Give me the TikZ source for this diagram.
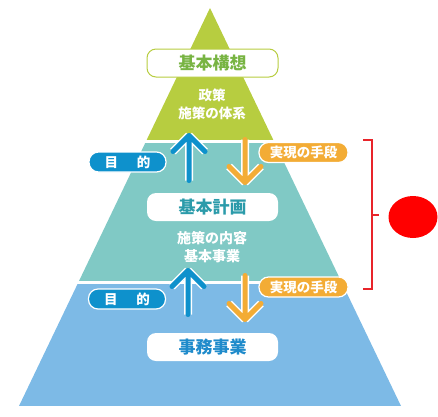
\documentclass[tikz,border=0pt]{standalone}
\usepackage{fontspec}
\newfontfamily\jp{Noto Sans CJK JP}
\usetikzlibrary{shapes.geometric}
\pgfdeclarelayer{bg}
\pgfsetlayers{bg,main}

\definecolor{tiergreen}{HTML}{B7CD40}
\definecolor{tierteal}{HTML}{80C9C5}
\definecolor{tierblue}{HTML}{7DBAE6}
\definecolor{kosotext}{HTML}{78B443}
\definecolor{keikakutext}{HTML}{2B9BAA}
\definecolor{jimutext}{HTML}{1F8BCB}
\definecolor{arrowblue}{HTML}{0E91CC}
\definecolor{arroworange}{HTML}{F3AC35}
\definecolor{bracketred}{HTML}{E8242A}
\definecolor{markred}{HTML}{FF0000}

\tikzset{
    titlebox/.style={rounded corners=9pt, fill=white, inner sep=0pt,
        minimum width=131pt, minimum height=28pt,
        font=\jp\bfseries\fontsize{17}{17}\selectfont},
    subtext/.style={text=white, inner sep=0pt,
        font=\jp\bfseries\fontsize{13.5}{13.5}\selectfont},
    pillbox/.style={rounded corners=9.5pt, draw=white, line width=1.2pt,
        inner sep=0pt, minimum height=20pt, text=white,
        font=\jp\bfseries\fontsize{13.5}{13.5}\selectfont},
    purposebox/.style={pillbox, fill=arrowblue, minimum width=77pt},
    meansbox/.style={pillbox, fill=arroworange, minimum width=89pt},
    flowarrow/.style={line width=5pt, line cap=round, line join=round,
        preaction={draw=white, line width=8pt}},
}

\begin{document}
\begin{tikzpicture}[x=1pt, y=-1pt]
    \useasboundingbox (0,0) rectangle (438,416);

    % pyramid
    \begin{pgfonlayer}{bg}
        \begin{scope}
            \clip (210,8) -- (401,406) -- (19,406) -- cycle;
            \fill[tiergreen] (0,0) rectangle (438,140);
            \fill[tierteal] (0,143) rectangle (438,281);
            \fill[tierblue] (0,284) rectangle (438,406);
        \end{scope}
    \end{pgfonlayer}

    % top tier
    \node (koso) [titlebox, draw=tiergreen, line width=1pt, text=kosotext] at (212.5,63) {基本構想};
    \node (seisaku) [subtext] at (212,95) {政策};
    \node (taikei) [subtext] at (212,113) {施策の体系};

    % middle tier
    \node (keikaku) [titlebox, text=keikakutext] at (212.5,207) {基本計画};
    \node (naiyo) [subtext, font=\jp\bfseries\fontsize{14}{14}\selectfont] at (212,238) {施策の内容};
    \node (kihon) [subtext, font=\jp\bfseries\fontsize{14}{14}\selectfont] at (212,256) {基本事業};

    % bottom tier
    \node (jimu) [titlebox, text=jimutext] at (212.5,347) {事務事業};

    % arrows
    \coordinate (up1s) at (189,180.5);
    \coordinate (up1e) at (189,135.5);
    \coordinate (dn1s) at (245,139.5);
    \coordinate (dn1e) at (245,182.5);
    \coordinate (up2s) at (188,314.5);
    \coordinate (up2e) at (188,270.5);
    \coordinate (dn2s) at (245,275.5);
    \coordinate (dn2e) at (245,319.5);

    \draw[flowarrow, arrowblue] (up1s) -- (up1e) (up1e) -- ++(-16,16) (up1e) -- ++(16,16);
    \draw[flowarrow, arroworange] (dn1s) -- (dn1e) (dn1e) -- ++(-16,-16) (dn1e) -- ++(16,-16);
    \draw[flowarrow, arrowblue] (up2s) -- (up2e) (up2e) -- ++(-16,16) (up2e) -- ++(16,16);
    \draw[flowarrow, arroworange] (dn2s) -- (dn2e) (dn2e) -- ++(-16,-16) (dn2e) -- ++(16,-16);

    \node (mokuteki1) [purposebox] at (127.5,162) {目\hspace{19pt}的};
    \node (shudan1) [meansbox] at (303.5,152.5) {実現の手段};
    \node (mokuteki2) [purposebox] at (127,299) {目\hspace{19pt}的};
    \node (shudan2) [meansbox] at (303.5,287) {実現の手段};

    % bracket
    \coordinate (brtop) at (363,140);
    \coordinate (brbot) at (363,289);
    \coordinate (brmid) at (379,215);
    \draw[bracketred, line width=2pt] (brtop) -- (372,140) -- (372,289) -- (brbot);
    \draw[bracketred, line width=2pt] (372,215) -- (brmid);
    \node (mark) [ellipse, fill=markred, inner sep=0pt, minimum width=49pt, minimum height=42pt] at (413,217) {};
\end{tikzpicture}
\end{document}
